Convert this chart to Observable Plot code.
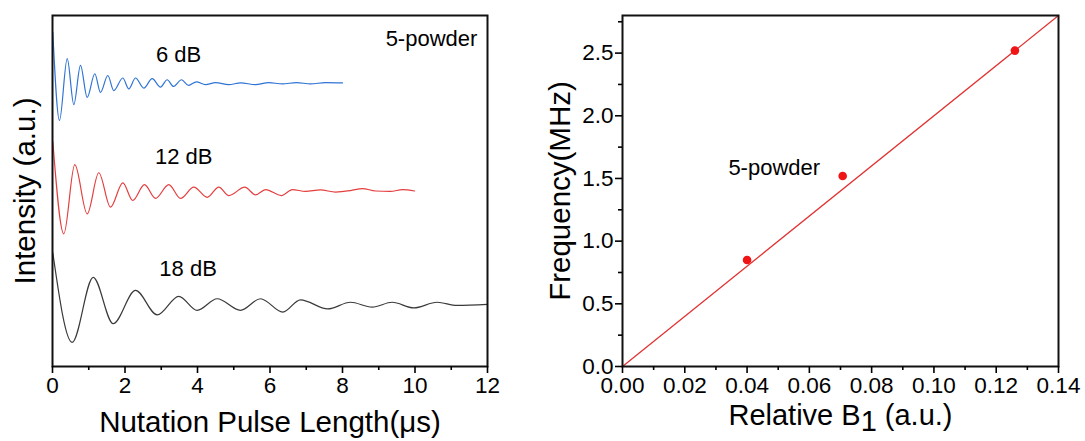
<!DOCTYPE html>
<html><head><meta charset="utf-8">
<script src="https://cdn.jsdelivr.net/npm/d3@7"></script>
<script src="https://cdn.jsdelivr.net/npm/@observablehq/plot@0.6"></script>
<style>
html,body{margin:0;padding:0;background:#fff;}
#wrap{position:relative;width:1085px;height:441px;overflow:hidden;background:#fff;}
#left{position:absolute;left:0;top:0;}
#right{position:absolute;left:540px;top:0;}
</style></head><body><div id="wrap"><div id="left"></div><div id="right"></div></div>
<script>
// ---------- Left panel: nutation traces (µs, intensity a.u.) ----------
const traceNames = ["6 dB", "12 dB", "18 dB"];
const traceColors = ["#2f74d4", "#e53e3e", "#3a3a3a"];

const blueT = [0.008,0.193,0.406,0.588,0.772,0.957,1.167,1.324,1.526,1.691,1.939,2.105,2.290,2.519,2.750,2.979,3.164,3.338,3.559,3.752,3.97,4.22,4.50,4.86,5.19,5.60,5.96,6.34,6.73,7.12,7.53,8.0];
const blueV = [9.52,7.01,8.77,7.46,8.58,7.67,8.34,7.81,8.29,7.86,8.22,7.91,8.22,7.93,8.20,7.96,8.17,7.98,8.17,8.01,8.11,8.03,8.09,8.03,8.08,8.03,8.09,8.05,8.09,8.05,8.09,8.08];

const redT = [0.008,0.312,0.615,0.957,1.277,1.600,1.939,2.215,2.538,2.841,3.208,3.531,3.898,4.268,4.588,4.863,5.305,5.600,5.876,6.317,6.62,6.98,7.39,7.81,8.22,8.55,8.91,9.32,9.66,9.99];
const redV = [6.41,3.78,5.75,4.35,5.52,4.54,5.23,4.73,5.18,4.79,5.18,4.79,5.11,4.82,5.11,4.87,5.11,4.89,5.04,4.87,5.04,4.99,5.03,4.97,5.01,5.07,5.00,4.99,5.04,5.00];

const blackT = [0.008,0.543,1.123,1.674,2.290,2.888,3.484,3.992,4.543,5.186,5.738,6.353,6.841,7.594,8.221,8.819,9.371,9.967,10.61,11.16,12.0];
const blackV = [3.24,0.69,2.54,1.22,2.17,1.47,2.00,1.60,1.93,1.60,1.93,1.55,1.90,1.64,1.83,1.69,1.83,1.67,1.83,1.74,1.77];

const leftMajorTicks = [0,2,4,6,8,10,12];
const leftMinorTicks = [1,3,5,7,9,11];

// ---------- Right panel: frequency vs relative B1 ----------
const b1Values = [0.040, 0.0707, 0.126];
const freqValues = [0.85, 1.52, 2.52];
const fitB1 = [0, 0.14];
const fitFreq = [0, 2.8];
const rightXMajor = [0,0.02,0.04,0.06,0.08,0.10,0.12,0.14];
const rightXMinor = [0.01,0.03,0.05,0.07,0.09,0.11,0.13];
const rightYMajor = [0,0.5,1.0,1.5,2.0,2.5];
const rightYMinor = [0.25,0.75,1.25,1.75,2.25,2.75];

const font = "'Liberation Sans', Arial, Helvetica, sans-serif";

const traces = [
  ...blueT.map((t, i) => ({t, v: blueV[i], s: traceNames[0]})),
  ...redT.map((t, i) => ({t, v: redV[i], s: traceNames[1]})),
  ...blackT.map((t, i) => ({t, v: blackV[i], s: traceNames[2]}))
];

const leftPlot = Plot.plot({
  width: 500, height: 441,
  marginLeft: 52, marginRight: 13, marginTop: 15, marginBottom: 75,
  style: {fontFamily: font, color: "#000", background: "#fff", overflow: "visible"},
  x: {domain: [0, 12], label: null},
  y: {domain: [0, 10], axis: null, label: null},
  color: {domain: traceNames, range: traceColors},
  marks: [
    Plot.line(traces, {x: "t", y: "v", z: "s", stroke: "s", strokeWidth: 1.2, curve: "monotone-x"}),
    Plot.frame({stroke: "#111", strokeWidth: 2}),
    Plot.axisX({ticks: leftMajorTicks, tickSize: 7, tickPadding: 4, fontSize: 22.5, label: null, strokeWidth: 1.6}),
    Plot.axisX({ticks: leftMinorTicks, tickSize: 4, tickFormat: () => "", label: null, strokeWidth: 1.6}),
    Plot.text([
      {x: 3.48, y: 8.89, label: traceNames[0]},
      {x: 3.62, y: 5.97, label: traceNames[1]},
      {x: 3.74, y: 2.78, label: traceNames[2]}
    ], {x: "x", y: "y", text: "label", fontSize: 22, lineAnchor: "middle", textAnchor: "middle"}),
    Plot.text(["5-powder"], {x: 11.72, y: 9.32, text: d => d, fontSize: 22, textAnchor: "end", lineAnchor: "middle"}),
    Plot.text(["Nutation Pulse Length(μs)"], {frameAnchor: "bottom", dy: 56, text: d => d, fontSize: 29.5, textAnchor: "middle", lineAnchor: "middle"}),
    Plot.text(["Intensity (a.u.)"], {frameAnchor: "left", dx: -27, rotate: -90, text: d => d, fontSize: 29.5, textAnchor: "middle", lineAnchor: "middle"})
  ]
});
document.getElementById("left").appendChild(leftPlot);

const pts = b1Values.map((b, i) => ({b, f: freqValues[i]}));
const fit = fitB1.map((b, i) => ({b, f: fitFreq[i]}));
const xTitleRight = "Relative B1 (a.u.)";

const rightPlot = Plot.plot({
  width: 545, height: 441,
  marginLeft: 82, marginRight: 27, marginTop: 15, marginBottom: 75,
  style: {fontFamily: font, color: "#000", background: "#fff", overflow: "visible"},
  x: {domain: [0, 0.14], label: null},
  y: {domain: [0, 2.8], label: null},
  marks: [
    Plot.line(fit, {x: "b", y: "f", stroke: "#e23434", strokeWidth: 1.3}),
    Plot.dot(pts, {x: "b", y: "f", r: 4.3, fill: "#f01414", stroke: "none"}),
    Plot.frame({stroke: "#111", strokeWidth: 2}),
    Plot.axisX({ticks: rightXMajor, tickFormat: d3.format(".2f"), tickSize: 7, tickPadding: 4, fontSize: 22.5, label: null, strokeWidth: 1.6}),
    Plot.axisX({ticks: rightXMinor, tickSize: 4, tickFormat: () => "", label: null, strokeWidth: 1.6}),
    Plot.axisY({ticks: rightYMajor, tickFormat: d3.format(".1f"), tickSize: 7, tickPadding: 2, fontSize: 22.5, label: null, strokeWidth: 1.6}),
    Plot.axisY({ticks: rightYMinor, tickSize: 4, tickFormat: () => "", label: null, strokeWidth: 1.6}),
    Plot.text(["5-powder"], {x: 0.034, y: 1.583, text: d => d, fontSize: 22, textAnchor: "start", lineAnchor: "middle"}),
    Plot.text([xTitleRight], {frameAnchor: "bottom", dy: 49, text: d => d, fontSize: 29, textAnchor: "middle", lineAnchor: "middle"}),
    Plot.text(["Frequency(MHz)"], {frameAnchor: "left", dx: -62, rotate: -90, text: d => d, fontSize: 29.5, textAnchor: "middle", lineAnchor: "middle"})
  ]
});
document.getElementById("right").appendChild(rightPlot);

// subscript on B1
d3.select(rightPlot).selectAll("text").filter(function() { return this.textContent === xTitleRight; })
  .each(function() {
    const t = d3.select(this);
    t.text(null);
    t.append("tspan").text("Relative B");
    t.append("tspan").attr("dy", "0.2em").text("1");
    t.append("tspan").attr("dy", "-0.2em").text(" (a.u.)");
  });
</script></body></html>
